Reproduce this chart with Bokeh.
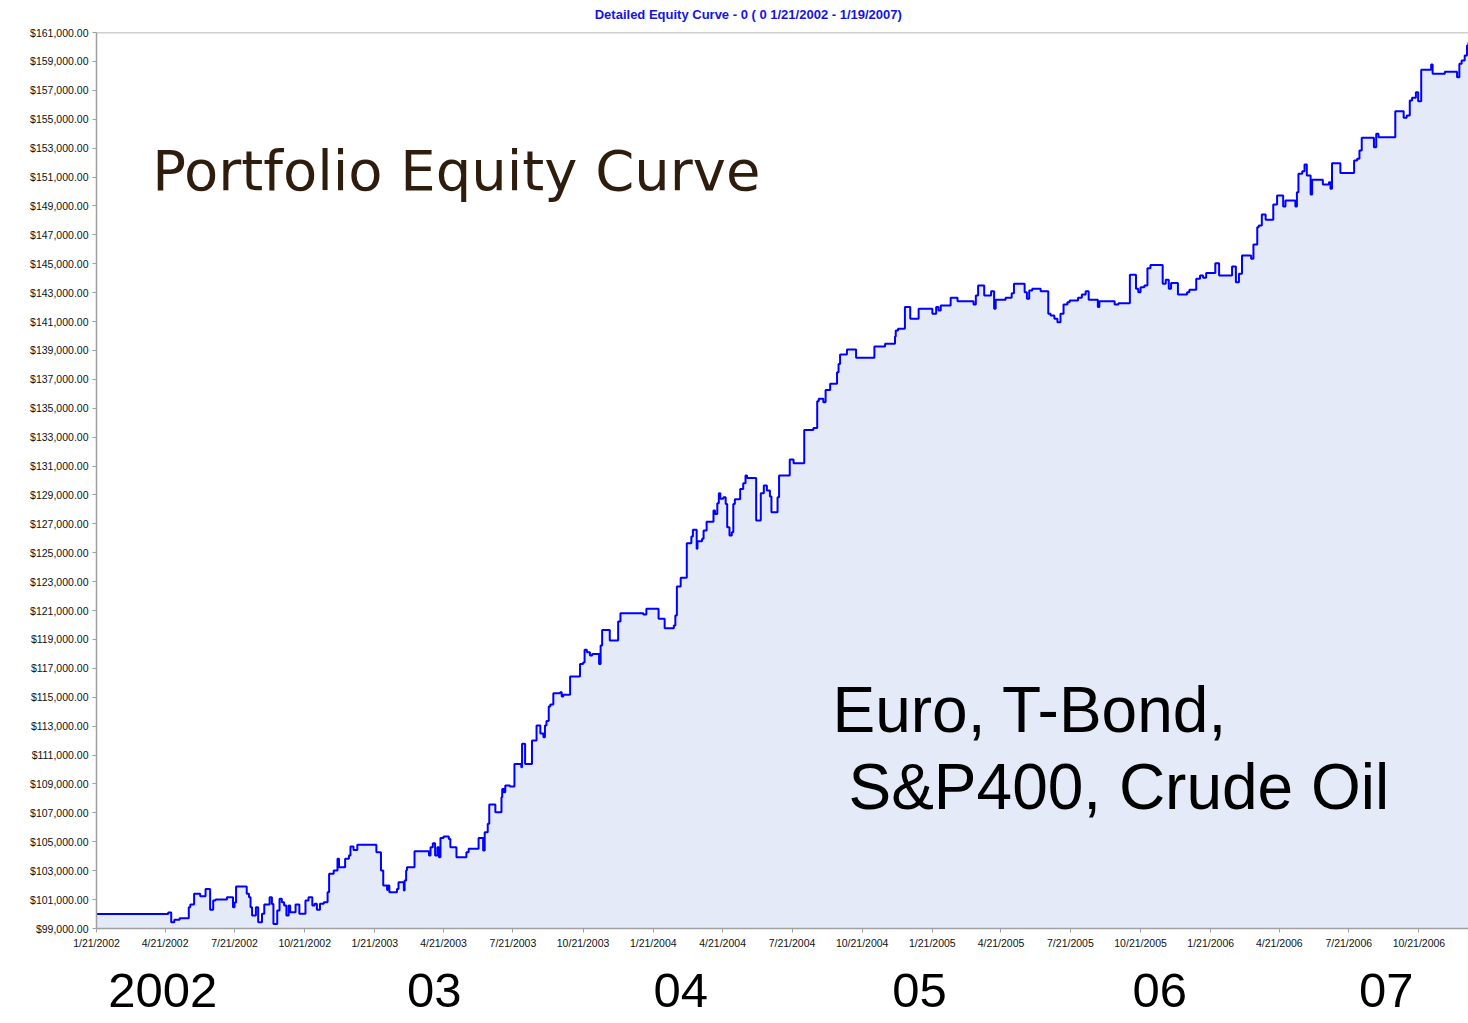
import pandas as pd
from bokeh.plotting import figure
from bokeh.models import (FixedTicker, NumeralTickFormatter, Label, Span,
                          ColumnDataSource, LinearAxis)
from bokeh.embed import file_html
from bokeh.resources import INLINE

# ---------------- data ----------------
start_date = "1/21/2002"
chart_title = "Detailed Equity Curve -  0 ( 0 1/21/2002 - 1/19/2007)"
title_center_day = 857

tick_labels = ["1/21/2002", "4/21/2002", "7/21/2002", "10/21/2002",
               "1/21/2003", "4/21/2003", "7/21/2003", "10/21/2003",
               "1/21/2004", "4/21/2004", "7/21/2004", "10/21/2004",
               "1/21/2005", "4/21/2005", "7/21/2005", "10/21/2005",
               "1/21/2006", "4/21/2006", "7/21/2006", "10/21/2006"]

y_ticks = list(range(99000, 161001, 2000))

# days since 1/21/2002 where the equity value changes, and the new equity value
days = [0, 94, 98, 102, 109, 121, 123, 128, 136, 143, 149, 153, 156, 171, 179, 181, 183, 197, 200, 202,
        204, 209, 212, 217, 220, 227, 230, 232, 237, 240, 243, 246, 249, 252, 254, 261, 266, 274, 278, 283,
        286, 289, 293, 298, 303, 305, 311, 316, 318, 326, 331, 333, 337, 342, 367, 373, 376, 381, 382, 384,
        394, 396, 403, 404, 406, 407, 417, 436, 438, 441, 444, 447, 449, 451, 455, 462, 464, 472, 485, 488,
        501, 507, 509, 513, 515, 523, 531, 532, 534, 536, 542, 548, 557, 558, 562, 571, 577, 582, 586, 588,
        590, 593, 595, 599, 608, 610, 612, 621, 634, 638, 640, 643, 647, 650, 659, 661, 663, 673, 684, 687,
        717, 721, 737, 745, 757, 759, 761, 766, 774, 780, 782, 787, 788, 794, 796, 800, 809, 811, 814, 816,
        818, 822, 825, 827, 830, 833, 835, 837, 844, 848, 851, 853, 865, 871, 875, 879, 883, 885, 893, 895,
        909, 914, 928, 940, 945, 947, 953, 956, 962, 971, 973, 975, 984, 996, 1020, 1034, 1047, 1048, 1051, 1060,
        1067, 1078, 1096, 1101, 1104, 1107, 1120, 1129, 1150, 1153, 1156, 1164, 1173, 1177, 1179, 1192, 1200, 1203, 1217, 1220,
        1223, 1227, 1238, 1248, 1251, 1256, 1260, 1264, 1268, 1273, 1276, 1287, 1292, 1297, 1301, 1313, 1315, 1335, 1340, 1355,
        1363, 1366, 1369, 1374, 1378, 1382, 1398, 1402, 1406, 1409, 1418, 1430, 1433, 1442, 1447, 1451, 1455, 1467, 1472, 1489,
        1494, 1498, 1502, 1514, 1517, 1522, 1524, 1528, 1533, 1543, 1548, 1556, 1559, 1572, 1574, 1576, 1581, 1584, 1587, 1592,
        1594, 1608, 1616, 1618, 1620, 1631, 1649, 1653, 1656, 1659, 1675, 1678, 1681, 1703, 1714, 1718, 1722, 1725, 1730, 1733,
        1737, 1750, 1752, 1768, 1784, 1787, 1790, 1794, 1797, 1799]

equity = [100000, 100100, 99430, 99600, 99710, 100470, 100660, 101400, 101230, 101740, 100290, 100940, 101000, 101160, 100470, 100800, 101900, 101400, 101160, 100470,
          99900, 100470, 99440, 100020, 100660, 101160, 100700, 99320, 100240, 101050, 100820, 100590, 99900, 100590, 100130, 100660, 100020, 100940, 101160, 100590,
          100710, 100290, 100710, 100820, 101510, 102780, 103010, 103820, 103240, 103820, 104050, 104670, 104440, 104790, 104280, 103010, 101970, 101670, 101970, 101510,
          101740, 102200, 101630, 102320, 103010, 103240, 104350, 104050, 104630, 104900, 104050, 104630, 103930, 105270, 105370, 105200, 104630, 103930, 104280, 104510,
          105270, 104390, 105660, 106240, 107580, 107050, 108080, 108660, 108430, 108890, 108820, 110390, 110160, 111780, 110390, 112010, 113050, 112490, 112240, 113050,
          113350, 114360, 114500, 115280, 115350, 115050, 115170, 116440, 117310, 117400, 118280, 118120, 117890, 118000, 117310, 118580, 119650, 118930, 120240, 120820,
          120730, 121120, 120430, 119780, 119960, 120660, 122660, 123270, 125660, 126120, 126590, 125270, 125800, 125970, 126540, 127140, 127920, 127690, 128430, 129120,
          128730, 128840, 128380, 126770, 126190, 126420, 128380, 128700, 129420, 129810, 130340, 130180, 127230, 129120, 129650, 129310, 128890, 127800, 128840, 130340,
          131450, 131200, 133500, 133640, 135480, 135650, 135420, 136270, 136690, 137490, 138070, 138720, 139060, 138490, 139270, 139460, 139960, 140380, 140500, 142000,
          141190, 141880, 141530, 142000, 141760, 142110, 142640, 142410, 142180, 142800, 143490, 142800, 143100, 141880, 142500, 142640, 142960, 143610, 143030, 142570,
          143150, 143270, 143100, 141530, 141420, 141190, 140950, 141530, 142180, 142340, 142460, 142640, 142870, 143100, 142500, 142000, 142410, 142180, 142270, 144230,
          143270, 143030, 143380, 143490, 144690, 144920, 143610, 143890, 143270, 143660, 142870, 143030, 143200, 143960, 144190, 144030, 144350, 145040, 144190, 144810,
          143720, 144300, 145570, 145340, 146330, 147530, 147650, 148400, 148040, 149100, 149720, 148960, 149370, 148960, 149950, 151220, 151400, 151870, 151100, 149790,
          150810, 150490, 150640, 150190, 151960, 151270, 152140, 152260, 152840, 153710, 153060, 153990, 153760, 155550, 155100, 155260, 156290, 156480, 156870, 156250,
          158420, 158790, 158140, 158280, 157900, 158830, 159060, 159410, 160100, 160330]

year_labels = ["2002", "03", "04", "05", "06", "07"]
year_label_days = [87, 443, 766, 1079, 1394, 1691]

# ---------------- derived ----------------
start = pd.Timestamp(pd.to_datetime(start_date, format="%m/%d/%Y"))
tick_days = [int((pd.to_datetime(t, format="%m/%d/%Y") - start).days) for t in tick_labels]

src = ColumnDataSource(dict(day=days, equity=equity))

Y0, Y1 = 99000, 161000

p = figure(width=1468, height=1023, x_range=(0, 1799), y_range=(Y0, Y1),
           output_backend="svg", toolbar_location=None,
           min_border_left=96, min_border_right=0, min_border_top=32, min_border_bottom=95,
           background_fill_color="white", border_fill_color="white")

p.outline_line_color = None
p.xgrid.visible = False
p.ygrid.visible = False

p.varea_step(x="day", y1=Y0, y2="equity", step_mode="after", source=src,
             fill_color="#e4eaf7")
p.step(x="day", y="equity", mode="after", source=src, line_color="#0000ff", line_width=2)

p.add_layout(Span(location=Y1, dimension="width", line_color="#a0a0a0", line_width=1.5))

# axes
for ax in (p.xaxis[0], p.yaxis[0]):
    ax.axis_line_color = "#a0a0a0"
    ax.axis_line_width = 1.5
    ax.major_tick_line_color = "#a0a0a0"
    ax.major_tick_in = 0
    ax.major_tick_out = 4
    ax.minor_tick_line_color = None
    ax.major_label_text_font = "Liberation Sans"
    ax.major_label_text_font_size = "10.5px"
    ax.major_label_text_color = "#111111"
    ax.major_label_standoff = 4

p.xaxis[0].ticker = FixedTicker(ticks=tick_days)
p.xaxis[0].major_label_overrides = {d: t for d, t in zip(tick_days, tick_labels)}
p.yaxis[0].ticker = FixedTicker(ticks=y_ticks)
p.yaxis[0].formatter = NumeralTickFormatter(format="$0,0.00")

# chart title drawn as the single label of an axis above the plot
title_axis = LinearAxis(ticker=FixedTicker(ticks=[title_center_day]),
                        major_label_overrides={title_center_day: chart_title},
                        axis_line_color=None, major_tick_line_color=None, minor_tick_line_color=None,
                        major_tick_out=0, major_tick_in=0,
                        major_label_text_font="Liberation Sans", major_label_text_font_style="bold",
                        major_label_text_font_size="13px", major_label_text_color="#1414e6",
                        major_label_standoff=11)
p.add_layout(title_axis, "above")

# big year labels under the date axis
year_axis = LinearAxis(ticker=FixedTicker(ticks=year_label_days),
                       major_label_overrides={d: t for d, t in zip(year_label_days, year_labels)},
                       axis_line_color=None, major_tick_line_color=None, minor_tick_line_color=None,
                       major_label_text_font="Liberation Sans", major_label_text_font_size="49px",
                       major_label_text_color="black", major_label_standoff=16)
p.add_layout(year_axis, "below")

# annotations
p.add_layout(Label(x=73, y=151450, text="Portfolio Equity Curve", text_font="DejaVu Sans",
                   text_font_size="56px", text_color="#2e1c0c", text_baseline="alphabetic"))
p.add_layout(Label(x=965, y=114150, text="Euro, T-Bond,", text_font="Liberation Sans",
                   text_font_size="64px", text_color="black", text_baseline="alphabetic"))
p.add_layout(Label(x=986, y=108820, text="S&P400, Crude Oil", text_font="Liberation Sans",
                   text_font_size="64px", text_color="black", text_baseline="alphabetic"))

open("out.html", "w").write(file_html(p, INLINE))
